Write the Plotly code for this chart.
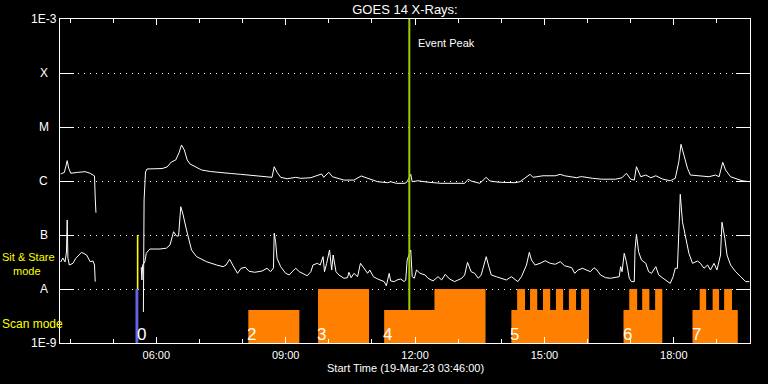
import plotly.graph_objects as go
import math

DAY = "2023-03-19 "

# ---------------- data ----------------
# GOES long channel (1-8 A) -- before and after the data gap
long_time_a = ["03:47", "03:52", "03:54", "03:56", "03:58", "04:01", "04:10", "04:21", "04:28", "04:32",
               "04:34", "04:35", "04:36"]
long_flux_a = [1.35e-6, 1.44e-6, 1.82e-6, 2.38e-6, 1.74e-6, 1.39e-6, 1.44e-6, 1.49e-6, 1.39e-6, 1.29e-6,
               1.24e-6, 4.85e-7, 2.59e-7]

long_time_b = ["05:42", "05:43", "05:45", "05:47", "06:08", "06:15", "06:21", "06:27", "06:32", "06:35",
               "06:39", "06:43", "06:47", "06:54", "07:03", "07:15", "07:29", "07:43", "07:57", "08:13",
               "08:29", "08:41", "08:44", "08:48", "08:53", "09:02", "09:14", "09:21", "09:35", "09:42",
               "09:50", "09:53", "10:00", "10:05", "10:12", "10:21", "10:35", "10:45", "10:52", "10:58",
               "11:08", "11:22", "11:26", "11:34", "11:46", "11:49", "11:54", "11:56", "12:04", "12:18",
               "12:36", "13:09", "13:14", "13:18", "13:30", "13:39", "13:44", "13:56", "14:19", "14:26",
               "14:33", "14:40", "14:44", "14:51", "14:58", "15:15", "15:22", "15:28", "15:40", "15:45",
               "15:50", "15:53", "16:07", "16:20", "16:39", "16:48", "16:54", "17:00", "17:05", "17:08",
               "17:14", "17:21", "17:28", "17:35", "17:44", "17:55", "18:02", "18:07", "18:10", "18:14",
               "18:19", "18:23", "18:35", "18:49", "18:58", "19:03", "19:08", "19:12", "19:19", "19:26",
               "19:35", "19:45"]
long_flux_b = [3.75e-9, 4.45e-7, 1.47e-6, 1.67e-6, 1.70e-6, 1.82e-6, 2.25e-6, 2.45e-6, 3.44e-6, 4.64e-6,
               3.75e-6, 2.45e-6, 2.06e-6, 1.82e-6, 1.60e-6, 1.50e-6, 1.42e-6, 1.38e-6, 1.33e-6, 1.26e-6,
               1.20e-6, 1.17e-6, 1.84e-6, 1.45e-6, 1.17e-6, 1.10e-6, 1.17e-6, 1.12e-6, 1.15e-6, 1.25e-6,
               1.35e-6, 1.17e-6, 1.45e-6, 1.20e-6, 1.12e-6, 1.04e-6, 1.04e-6, 1.24e-6, 1.15e-6, 1.08e-6,
               9.7e-7, 9.3e-7, 9.7e-7, 9.06e-7, 9.06e-7, 9.7e-7, 1.33e-6, 9.7e-7, 1.01e-6, 9.5e-7,
               9.06e-7, 9.06e-7, 1.08e-6, 1.0e-6, 9.06e-7, 1.17e-6, 1.0e-6, 9.5e-7, 9.3e-7, 9.7e-7,
               1.12e-6, 1.33e-6, 1.17e-6, 1.20e-6, 1.25e-6, 1.25e-6, 1.33e-6, 1.25e-6, 1.20e-6, 1.15e-6,
               1.20e-6, 1.20e-6, 1.12e-6, 1.08e-6, 1.08e-6, 1.15e-6, 1.39e-6, 1.08e-6, 1.04e-6, 1.84e-6,
               1.20e-6, 1.29e-6, 1.15e-6, 1.25e-6, 1.09e-6, 1.01e-6, 1.12e-6, 2.28e-6, 4.78e-6, 3.03e-6,
               1.72e-6, 1.29e-6, 1.25e-6, 1.20e-6, 1.29e-6, 1.20e-6, 2.22e-6, 1.60e-6, 1.20e-6, 1.12e-6,
               1.01e-6, 9.7e-7]

# GOES short channel (0.5-4 A)
short_time_a = ["03:47", "03:50", "03:53", "03:55", "03:56", "03:57", "03:59", "04:04", "04:08", "04:16",
                "04:23", "04:28", "04:32", "04:34", "04:35"]
short_flux_a = [3.17e-8, 3.75e-8, 3.17e-8, 4.85e-8, 1.90e-7, 3.75e-8, 2.78e-8, 2.99e-8, 3.70e-8, 4.78e-8,
                4.26e-8, 3.20e-8, 3.3e-8, 2.78e-8, 1.37e-8]

short_time_b = ["05:39", "05:40", "05:41", "05:44", "05:46", "05:51", "06:05", "06:14", "06:19", "06:24",
                "06:28", "06:31", "06:34", "06:37", "06:42", "06:49", "06:56", "07:10", "07:24", "07:33",
                "07:37", "07:42", "07:47", "07:53", "07:58", "08:04", "08:09", "08:17", "08:27", "08:34",
                "08:39", "08:43", "08:44", "08:46", "08:48", "08:53", "09:00", "09:05", "09:09", "09:14",
                "09:19", "09:26", "09:30", "09:35", "09:38", "09:44", "09:48", "09:52", "09:54", "09:57",
                "10:01", "10:04", "10:06", "10:10", "10:14", "10:21", "10:26", "10:28", "10:31", "10:35",
                "10:40", "10:44", "10:49", "10:54", "10:57", "11:02", "11:08", "11:12", "11:17", "11:20",
                "11:24", "11:26", "11:31", "11:35", "11:40", "11:45", "11:47", "11:49", "11:54", "11:56",
                "11:59", "12:02", "12:07", "12:14", "12:18", "12:25", "12:32", "12:37", "12:42", "12:48",
                "12:55", "13:05", "13:09", "13:13", "13:18", "13:23", "13:28", "13:32", "13:36", "13:39",
                "13:42", "13:46", "13:53", "14:00", "14:07", "14:14", "14:19", "14:23", "14:28", "14:35",
                "14:39", "14:42", "14:47", "14:54", "15:01", "15:08", "15:15", "15:22", "15:28", "15:38",
                "15:42", "15:47", "15:53", "16:00", "16:04", "16:09", "16:13", "16:18", "16:25", "16:32",
                "16:39", "16:44", "16:46", "16:48", "16:51", "16:54", "16:58", "17:01", "17:05", "17:06",
                "17:08", "17:11", "17:15", "17:21", "17:25", "17:29", "17:35", "17:39", "17:44", "17:49",
                "17:52", "17:55", "17:59", "18:02", "18:05", "18:07", "18:09", "18:12", "18:16", "18:21",
                "18:26", "18:33", "18:37", "18:42", "18:47", "18:51", "18:56", "19:00", "19:05", "19:07",
                "19:11", "19:14", "19:19", "19:26", "19:33", "19:40", "19:45"]
short_flux_b = [2.55e-8, 1.47e-8, 2.78e-8, 3.17e-8, 4.58e-8, 5.5e-8, 5.5e-8, 5.7e-8, 6.52e-8, 1.15e-7,
                9.6e-8, 9.6e-8, 3.34e-7, 2.45e-7, 1.24e-7, 5.28e-8, 3.97e-8, 3.20e-8, 2.78e-8, 2.59e-8,
                2.78e-8, 3.55e-8, 2.67e-8, 1.95e-8, 2.42e-8, 2.52e-8, 2.13e-8, 2.04e-8, 2.15e-8, 2.42e-8,
                2.09e-8, 2.45e-8, 1.08e-7, 7.5e-8, 3.70e-8, 2.59e-8, 1.95e-8, 1.82e-8, 2.09e-8, 2.42e-8,
                2.09e-8, 1.87e-8, 1.76e-8, 2.09e-8, 2.78e-8, 2.99e-8, 2.78e-8, 3.97e-8, 2.09e-8, 2.99e-8,
                5.28e-8, 2.25e-8, 4.26e-8, 2.09e-8, 1.82e-8, 1.58e-8, 1.62e-8, 2.04e-8, 1.62e-8, 1.95e-8,
                1.69e-8, 2.99e-8, 2.42e-8, 1.95e-8, 2.25e-8, 1.69e-8, 1.53e-8, 1.47e-8, 1.37e-8, 1.15e-8,
                1.95e-8, 1.41e-8, 1.37e-8, 1.47e-8, 1.53e-8, 1.37e-8, 1.47e-8, 3.44e-8, 5.28e-8, 1.69e-8,
                1.58e-8, 2.25e-8, 1.95e-8, 1.82e-8, 1.58e-8, 1.41e-8, 1.69e-8, 1.47e-8, 1.87e-8, 1.53e-8,
                1.37e-8, 1.58e-8, 1.82e-8, 3.12e-8, 2.09e-8, 1.95e-8, 1.58e-8, 1.82e-8, 2.99e-8, 3.97e-8,
                2.78e-8, 1.82e-8, 1.69e-8, 1.58e-8, 1.47e-8, 1.69e-8, 1.47e-8, 1.37e-8, 1.69e-8, 2.78e-8,
                4.78e-8, 3.44e-8, 2.78e-8, 2.99e-8, 3.34e-8, 2.99e-8, 2.87e-8, 3.20e-8, 2.70e-8, 2.48e-8,
                1.95e-8, 2.25e-8, 2.42e-8, 2.25e-8, 2.09e-8, 2.48e-8, 2.25e-8, 1.82e-8, 1.62e-8, 1.58e-8,
                1.62e-8, 1.69e-8, 2.59e-8, 2.09e-8, 4.58e-8, 3.20e-8, 1.58e-8, 1.37e-8, 1.37e-8, 5.28e-8,
                1.03e-7, 4.9e-8, 3.44e-8, 2.99e-8, 2.09e-8, 1.95e-8, 2.59e-8, 1.82e-8, 1.62e-8, 1.47e-8,
                1.37e-8, 1.27e-8, 1.69e-8, 2.42e-8, 2.42e-8, 1.53e-7, 5.66e-7, 1.76e-7, 1.0e-7, 4.58e-8,
                2.99e-8, 3.3e-8, 2.99e-8, 2.42e-8, 2.78e-8, 2.25e-8, 2.99e-8, 2.25e-8, 4.26e-8, 1.72e-7,
                8.7e-8, 4.26e-8, 2.78e-8, 2.09e-8, 1.69e-8, 1.37e-8, 1.37e-8]

# observing-mode panel (levels in panel units; 1 = full scan-mode height)
scan_start = ["08:08", "09:45", "11:17", "12:27", "14:14", "14:22", "14:40", "14:58", "15:16", "15:34",
              "15:51", "16:50", "16:58", "17:16", "17:34", "18:26", "18:36", "18:54", "19:10"]
scan_end = ["09:19", "10:56", "13:38", "13:38", "16:02", "14:33", "14:50", "15:08", "15:26", "15:44",
            "16:02", "17:44", "17:09", "17:26", "17:44", "19:29", "18:45", "19:03", "19:21"]
scan_level = [0.61, 1, 0.61, 1, 0.61, 1, 1, 1, 1, 1,
              1, 0.61, 1, 1, 1, 0.61, 1, 1, 1]

scan0_start, scan0_end, scan0_level = "05:31", "05:35", 1
stare_time, stare_low, stare_high = "05:34", 1, 2

block_label = ["0", "2", "3", "4", "5", "6", "7"]
block_label_time = ["05:34", "08:08", "09:45", "11:17", "14:14", "16:50", "18:26"]

peak_time = "11:52"

ytick_vals = [1e-9, 1e-8, 1e-7, 1e-6, 1e-5, 1e-4, 1e-3]
ytick_text = ["1E-9", "A", "B", "C", "M", "X", "1E-3"]

x_start, x_end = "03:46", "19:46"

assert len(long_time_a) == len(long_flux_a)
assert len(long_time_b) == len(long_flux_b), (len(long_time_b), len(long_flux_b))
assert len(short_time_a) == len(short_flux_a)
assert len(short_time_b) == len(short_flux_b), (len(short_time_b), len(short_flux_b))
assert len(scan_start) == len(scan_end) == len(scan_level)


def T(hm):
    return DAY + hm


def join(ta, fa, tb, fb):
    return [T(t) for t in ta] + [None] + [T(t) for t in tb], list(fa) + [None] + list(fb)


FONT = "Liberation Sans"
fig = go.Figure()

# scan-mode blocks
bx, by = [], []
for s, e, l in zip(scan_start, scan_end, scan_level):
    bx += [T(s), T(s), T(e), T(e), T(s), None]
    by += [0, l, l, 0, 0, None]
fig.add_trace(go.Scatter(x=bx, y=by, yaxis="y2", mode="lines", fill="toself",
                         fillcolor="#ff8000", line=dict(width=0, color="#ff8000"),
                         hoverinfo="skip"))
fig.add_trace(go.Scatter(x=[T(scan0_start), T(scan0_start), T(scan0_end), T(scan0_end), T(scan0_start)],
                         y=[0, scan0_level, scan0_level, 0, 0], yaxis="y2", mode="lines",
                         fill="toself", fillcolor="#6464e6", line=dict(width=0, color="#6464e6")))
fig.add_trace(go.Scatter(x=[T(stare_time), T(stare_time)], y=[stare_low, stare_high], yaxis="y2",
                         mode="lines", line=dict(color="#ffff00", width=1.6)))

lx, ly = join(long_time_a, long_flux_a, long_time_b, long_flux_b)
sx, sy = join(short_time_a, short_flux_a, short_time_b, short_flux_b)
fig.add_trace(go.Scatter(x=lx, y=ly, mode="lines", line=dict(color="white", width=1), connectgaps=False))
fig.add_trace(go.Scatter(x=sx, y=sy, mode="lines", line=dict(color="white", width=1), connectgaps=False))

fig.add_trace(go.Scatter(x=[T(peak_time), T(peak_time)], y=[ytick_vals[0], ytick_vals[-1]],
                         mode="lines", line=dict(color="#9fcc00", width=2)))

ann = []
for txt, t in zip(block_label, block_label_time):
    ann.append(dict(x=T(t), y=0, xref="x", yref="y2", text=txt, showarrow=False,
                    xanchor="left", yanchor="bottom", xshift=-3, yshift=-3,
                    font=dict(family=FONT, size=17, color="white")))
for v, txt in zip(ytick_vals, ytick_text):
    ann.append(dict(x=-0.0232, y=math.log10(v), xref="paper", yref="y", text=txt, showarrow=False,
                    xanchor="center", yanchor="middle", font=dict(family=FONT, size=12, color="white")))
ann.append(dict(x=T(peak_time), y=0.926, xref="x", yref="paper", text="Event Peak", showarrow=False,
                xanchor="left", yanchor="middle", xshift=7, font=dict(family=FONT, size=11, color="white")))
ann.append(dict(x=-0.087, y=0.2654, xref="paper", yref="paper", text="Sit & Stare", showarrow=False,
                xanchor="left", yanchor="middle", font=dict(family=FONT, size=11, color="#ffff00")))
ann.append(dict(x=-0.071, y=0.2222, xref="paper", yref="paper", text="mode", showarrow=False,
                xanchor="left", yanchor="middle", font=dict(family=FONT, size=11, color="#ffff00")))
ann.append(dict(x=-0.087, y=0.0586, xref="paper", yref="paper", text="Scan mode", showarrow=False,
                xanchor="left", yanchor="middle", font=dict(family=FONT, size=12, color="#ffff00")))
ann.append(dict(x=0.5, y=-0.077, xref="paper", yref="paper", text="Start Time (19-Mar-23 03:46:00)",
                showarrow=False, xanchor="center", yanchor="middle",
                font=dict(family=FONT, size=11, color="white")))

fig.update_layout(
    width=768, height=384,
    margin=dict(l=60, r=18, t=19, b=41),
    paper_bgcolor="black", plot_bgcolor="black",
    showlegend=False,
    font=dict(family=FONT, color="white", size=11),
    title=dict(text="GOES 14 X-Rays:", x=0.5, xref="paper", xanchor="center",
               y=1 - 9.5 / 384, yref="container", yanchor="middle",
               font=dict(family=FONT, size=13, color="white")),
    annotations=ann,
    xaxis=dict(type="date", range=[T(x_start), T(x_end)], tickformat="%H:%M",
               dtick=3 * 3600000, tick0=T("00:00"), ticks="inside", ticklen=6, tickwidth=1,
               tickcolor="white", showline=True, linecolor="white", linewidth=1, mirror="ticks",
               showgrid=False, zeroline=False, tickfont=dict(family=FONT, size=11, color="white"),
               ticklabelstandoff=2,
               minor=dict(dtick=3600000, ticks="inside", ticklen=4, tickcolor="white", showgrid=False)),
    yaxis=dict(type="log", range=[-9, -3], tickvals=ytick_vals, showticklabels=False,
               ticks="inside", ticklen=14, tickcolor="white", showline=True, linecolor="white",
               linewidth=1, mirror="ticks", showgrid=True, gridcolor="white", gridwidth=1,
               griddash="1px,5px", zeroline=False),
    yaxis2=dict(overlaying="y", range=[0, 6], visible=False),
)

fig.write_html("out.html")
